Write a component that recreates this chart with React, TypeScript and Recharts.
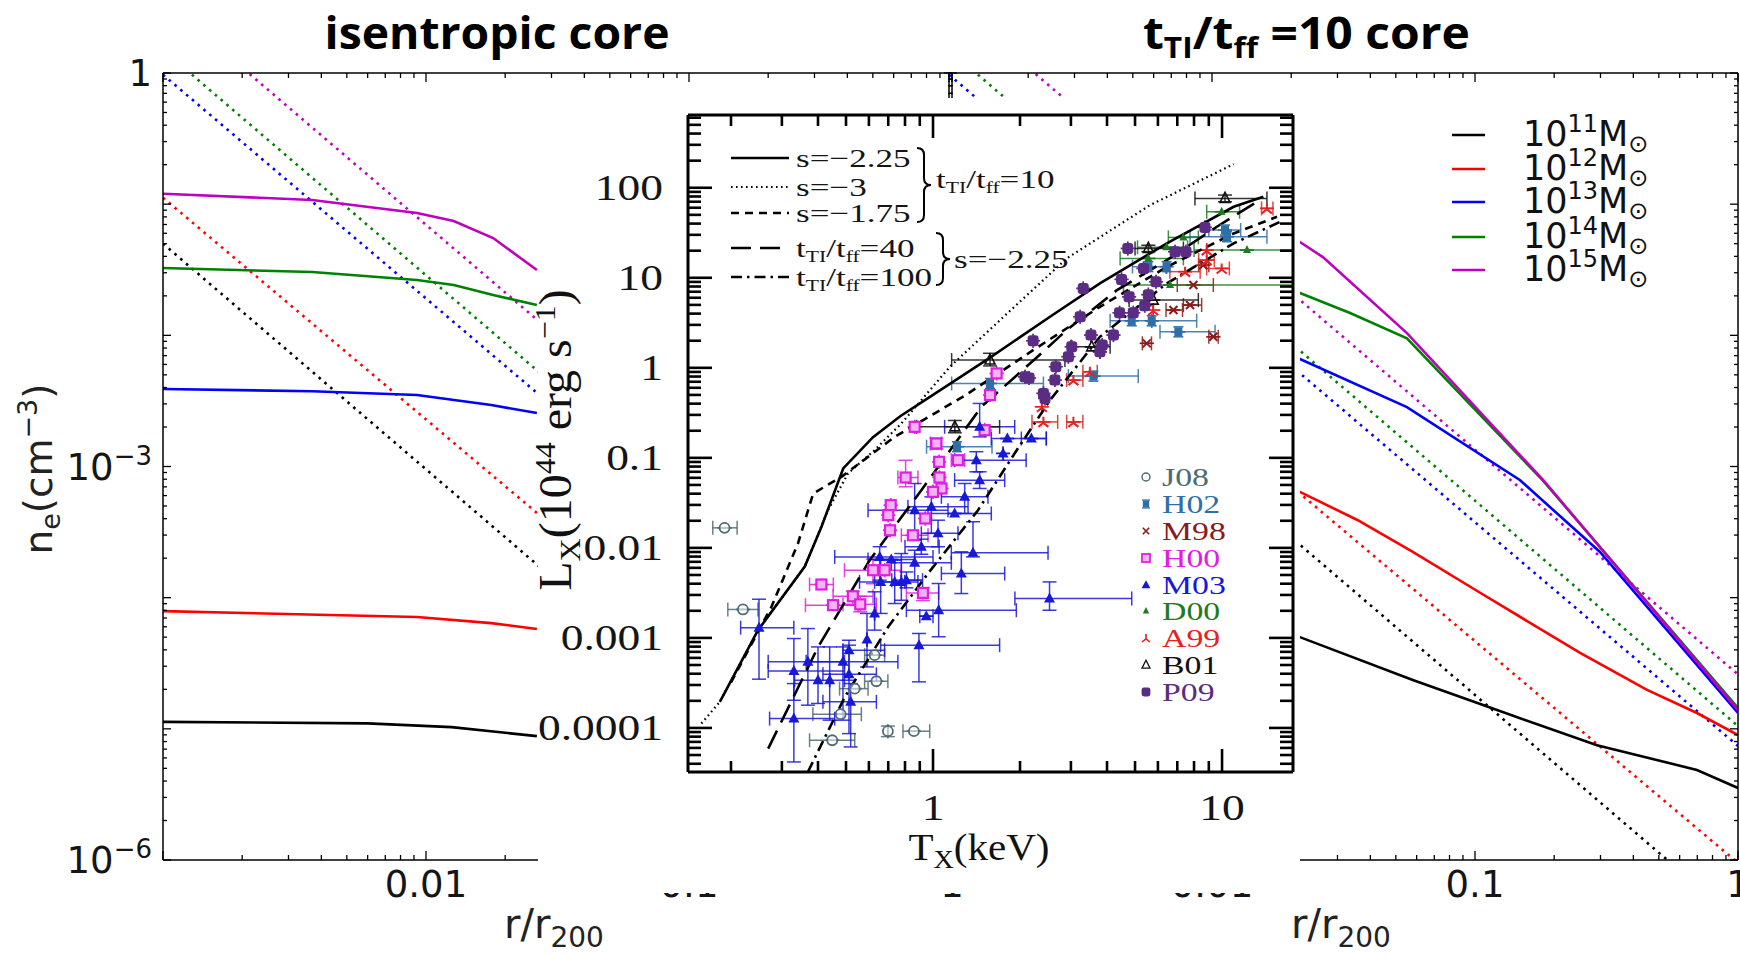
import React from 'react';
import { LineChart, Line, XAxis, YAxis, ComposedChart, Scatter, ErrorBar } from 'recharts';

type Pt = [number, number];

// ---------------- n_e(r) panels ----------------
const massExps = ['11', '12', '13', '14', '15'];
const massColors = ['#000000', '#ff0000', '#0000ff', '#008000', '#bf00bf'];

// isentropic core (solid)  [r/r200, n_e]
const isoM11: Pt[] = [[0.001, 1.13e-5], [0.006, 1.1e-5], [0.0125, 1.03e-5], [0.0264, 8.8e-6]];
const isoM12: Pt[] = [[0.001, 7.9e-5], [0.00924, 7.13e-5], [0.0177, 6.4e-5], [0.0264, 5.77e-5]];
const isoM13: Pt[] = [[0.001, 3.9e-3], [0.00369, 3.75e-3], [0.00924, 3.51e-3], [0.0177, 2.94e-3], [0.0264, 2.56e-3]];
const isoM14: Pt[] = [[0.001, 0.0326], [0.00369, 0.0304], [0.00924, 0.0264], [0.01275, 0.0242], [0.018, 0.0203], [0.0264, 0.017]];
const isoM15: Pt[] = [[0.001, 0.12], [0.00369, 0.1076], [0.00924, 0.0857], [0.01275, 0.0744], [0.018, 0.0552], [0.0264, 0.0315]];

// tTI/tff = 10 core (solid)
const tiM11: Pt[] = [[0.02, 5.1e-5], [0.0216, 5.0e-5], [0.058, 2.36e-5], [0.1213, 1.39e-5], [0.291, 7.5e-6], [0.698, 4.86e-6], [1, 3.54e-6]];
const tiM12: Pt[] = [[0.02, 6.7e-4], [0.0216, 6.4e-4], [0.0357, 3.91e-4], [0.058, 2.23e-4], [0.1046, 1.09e-4], [0.251, 3.79e-5], [0.451, 1.98e-5], [0.698, 1.32e-5], [1, 8.97e-6]];
const tiM13: Pt[] = [[0.02, 6.9e-3], [0.0216, 6.6e-3], [0.0551, 2.84e-3], [0.148, 7.9e-4], [0.2987, 2.23e-4], [1, 1.32e-5]];
const tiM14: Pt[] = [[0.02, 0.022], [0.0216, 0.021], [0.0335, 0.0148], [0.0551, 9.5e-3], [0.1814, 7.8e-4], [1, 1.44e-5]];
const tiM15: Pt[] = [[0.02, 0.058], [0.0216, 0.0515], [0.0264, 0.0395], [0.0551, 0.0104], [0.1814, 7.9e-4], [1, 1.39e-5]];

// dotted threshold lines (same in both panels)
const dotM11: Pt[] = [[0.001, 0.05], [1, 3.45e-7]];
const dotM12: Pt[] = [[0.001, 0.112], [1, 9.5e-7]];
const dotM13: Pt[] = [[0.001, 0.97], [1, 7.4e-6]];
const dotM14: Pt[] = [[0.001, 1.5], [1, 1.05e-5]];
const dotM15: Pt[] = [[0.001, 3.6], [1, 2.6e-5]];

const isoSolids = [isoM11, isoM12, isoM13, isoM14, isoM15];
const tiSolids = [tiM11, tiM12, tiM13, tiM14, tiM15];
const dottedLines = [dotM11, dotM12, dotM13, dotM14, dotM15];

// ---------------- inset: L_X(T_X) ----------------
const insetSolid: Pt[] = [[0.183, 1.95e-4], [0.248, 1.22e-3], [0.36, 6.2e-3], [0.411, 0.0171], [0.489, 0.0762], [0.62, 0.17], [0.77, 0.29], [1.0, 0.5], [1.575, 1.3], [2.54, 3.69], [3.78, 8.67], [6.44, 24.1], [10.97, 61.5], [13.9, 79.4]];
const insetDotted: Pt[] = [[0.158, 1.12e-4], [0.183, 1.95e-4], [0.248, 1.22e-3], [0.36, 6.2e-3], [0.433, 0.0262], [0.508, 0.0671], [0.628, 0.122], [0.777, 0.241], [1.145, 1.03], [1.706, 3.39], [2.9, 16.4], [5.63, 64], [10.97, 183]];
const insetDashed: Pt[] = [[0.2, 3.2e-4], [0.276, 2.21e-3], [0.341, 0.0112], [0.385, 0.0402], [0.482, 0.0615], [0.737, 0.171], [1.3, 0.5], [2.22, 1.57], [3.78, 4.76], [6.44, 13.2], [10.97, 31.1], [15.5, 47.6]];
const insetLong40: Pt[] = [[0.269, 5.9e-5], [0.4, 7.9e-4], [0.604, 7.3e-3], [0.911, 0.0437], [1.47, 0.369], [2.22, 1.2], [2.9, 2.62], [4.33, 7.3], [6.44, 15.7], [9.6, 36.9], [13.5, 73]];
const insetDashDot100: Pt[] = [[0.369, 3.24e-5], [0.495, 2.2e-4], [0.699, 1.32e-3], [0.961, 5.2e-3], [1.431, 0.0262], [1.95, 0.122], [2.54, 0.437], [3.78, 2.21], [6.44, 8.67], [10.97, 24.1], [15.9, 41.9]];

// observations: [T, L, Tlo, Thi, Llo, Lhi]
const J08 = [[0.19, 0.0167, 0.173, 0.21], [0.22, 2.07e-3, 0.195, 0.248], [0.698, 9.2e-5, 0.698, 0.698, 8e-5, 1.05e-4], [0.859, 9.2e-5, 0.787, 0.974], [0.448, 7.3e-5, 0.374, 0.536], [0.479, 1.42e-4, 0.384, 0.565], [0.536, 2.73e-4, 0.475, 0.596], [0.637, 3.3e-4, 0.58, 0.698], [0.628, 6.43e-4, 0.58, 0.68]];
const H02 = [[1.575, 0.67, 1.16, 2.41], [3.59, 0.809, 2.94, 5.13], [7.06, 2.51, 6.1, 9.46], [4.87, 3.33, 4.1, 8.17], [5.71, 3.33, 5.71, 5.71], [5.56, 13.3, 4.9, 6.4], [6.43, 13.3, 6.43, 6.43], [10.24, 33.9, 9.0, 11.6], [10.4, 28.6, 7.75, 14.3], [1.21, 0.133, 0.95, 1.6]];
const M98 = [[5.49, 1.87, 5.3, 5.7], [9.33, 2.21, 9.0, 9.7], [6.79, 4.38, 6.4, 7.3], [7.75, 4.98, 7.35, 8.5], [7.96, 8.3, 7.0, 9.33], [8.61, 13.8, 8.3, 9.0], [3.78, 1.51, 3.78, 3.78]];
const H00 = [[0.864, 0.221], [1.509, 0.203], [1.027, 0.1445, 0.98, 1.07, 0.125, 0.165], [1.05, 0.0903], [1.22, 0.0942, 1.157, 1.287], [0.804, 0.0605, 0.756, 0.887, 0.0477, 0.094], [1.053, 0.0605], [1.07, 0.0457], [1.0, 0.0419], [0.714, 0.0298], [0.7, 0.0231], [0.94, 0.0212], [0.71, 0.0157], [0.852, 0.0138, 0.777, 0.961], [0.62, 5.65e-3, 0.494, 0.777, 4.0e-3, 7.5e-3], [0.68, 5.65e-3], [0.411, 3.92e-3, 0.374, 0.452], [0.528, 2.9e-3, 0.451, 0.62, 2.3e-3, 3.3e-3], [0.451, 2.31e-3, 0.362, 0.55], [0.56, 2.36e-3, 0.488, 0.637, 1.95e-3, 2.9e-3], [0.923, 3.16e-3, 0.809, 1.046, 2.6e-3, 3.6e-3], [1.575, 0.498], [1.66, 0.866]];
const M03 = [[0.25, 1.3e-3, 0.216, 0.33, 3.48e-4, 2.69e-3], [0.33, 4.3e-4, 0.269, 0.494, 2.03e-4, 9.84e-4], [0.33, 1.27e-4, 0.272, 0.457, 4.19e-5, 3.11e-4], [0.369, 5.42e-4, 0.269, 0.494, 1.79e-4, 1.27e-3], [0.4, 3.39e-4, 0.332, 0.494, 1.87e-4, 7.94e-4], [0.439, 3.39e-4, 0.439, 0.439, 1.22e-4, 7.94e-4], [0.488, 5.42e-4, 0.364, 0.756, 1.22e-4, 7.94e-4], [0.512, 7.3e-4, 0.488, 0.68, 3.39e-4, 9.42e-4], [0.512, 3.95e-4, 0.416, 0.637, 8.65e-5, 8.3e-4], [0.519, 1.95e-4, 0.416, 0.637, 6.15e-5, 3.11e-4], [0.591, 9.59e-4, 0.591, 0.591, 4.76e-4, 1.87e-3], [0.628, 1.87e-3, 0.628, 0.628, 1.22e-3, 3.25e-3], [0.654, 7.94e-3, 0.457, 1.0, 4.38e-3, 0.0103], [0.659, 4.19e-3, 0.557, 0.798, 1.87e-3, 7.3e-3], [0.737, 4.19e-3, 0.628, 0.887, 2.41e-3, 7.3e-3], [0.777, 4.19e-3, 0.777, 0.777, 2.62e-3, 8.65e-3], [0.717, 7.43e-3, 0.596, 0.864], [0.864, 6.82e-3, 0.717, 1.157, 4.38e-3, 9.42e-3], [0.864, 0.0262, 0.596, 1.127, 0.0122, 0.0519], [0.987, 0.0286, 0.819, 1.322, 0.0145, 0.0369], [1.041, 0.0145, 0.911, 1.22, 0.0103, 0.0203], [1.188, 0.0241, 0.961, 1.591], [1.287, 0.0369, 1.069, 1.549, 0.0241, 0.0519], [1.375, 8.81e-3, 1.157, 2.5, 7.94e-3, 0.0195], [1.253, 5.19e-3, 1.069, 1.77, 3.11e-3, 9.04e-3], [0.894, 8.3e-4, 0.659, 1.7, 3.25e-4, 1.12e-3], [1.046, 2.03e-3, 0.809, 1.942, 1.03e-3, 4.02e-3], [0.948, 1.74e-3, 0.9, 1.0], [1.45, 0.0565, 1.188, 1.77, 0.0457, 0.07], [1.412, 0.0942, 1.188, 2.1, 0.07, 0.117], [1.808, 0.164, 1.591, 2.466], [2.189, 0.164, 2.021, 2.466], [1.45, 0.221, 1.097, 1.917, 0.171, 0.402], [1.747, 0.112], [2.53, 2.74e-3, 1.92, 4.87, 2.03e-3, 4.19e-3], [0.911, 0.0103, 0.8, 1.05, 8.5e-3, 0.0125], [0.809, 4.38e-3, 0.72, 0.92, 3.6e-3, 5.4e-3]];
const D00 = [[9.97, 54.2, 8.85, 11.5], [7.35, 28.1, 6.52, 8.28], [5.56, 16.4, 4.44, 7.35], [6.43, 21.8, 5.1, 7.6], [12.2, 20.3, 8.0, 17.6], [6.61, 8.3, 4.56, 17.6]];
const A99 = [[3.06, 0.73, 2.9, 3.3], [3.49, 0.904, 3.3, 3.7], [2.41, 0.251, 2.2, 2.7], [3.06, 0.251, 2.9, 3.3], [2.38, 0.369], [7.45, 11.7, 6.6, 8.4], [9.97, 12.7, 8.85, 10.6], [8.85, 20.3], [14.3, 59, 13.7, 15.0], [5.78, 4.38], [8.85, 15.7, 8.3, 9.4], [3.78, 1.71]];
const B01 = [[10.24, 76.2, 8.06, 14.3, 70, 83], [5.56, 21.2, 5.0, 7.35, 19.5, 23], [5.78, 5.65, 4.77, 8.28], [1.575, 1.22, 1.16, 2.86, 1.05, 1.45], [1.19, 0.221, 0.878, 1.7, 0.19, 0.26], [3.54, 1.71, 3.0, 4.1]];
const P09 = [[8.73, 36.3], [4.72, 21.2], [6.88, 19.5], [7.5, 19.5], [5.35, 12.7], [5.91, 9.04], [4.49, 9.6], [3.31, 7.62], [4.77, 6.15], [5.56, 6.5], [4.42, 4.09], [4.93, 4.09], [5.4, 4.9], [3.23, 3.69], [3.52, 2.31], [4.21, 2.31], [3.85, 1.79], [3.02, 1.71], [2.22, 2.0], [2.66, 1.03], [2.64, 0.73], [2.08, 0.794], [2.15, 0.77], [2.44, 0.457], [2.41, 0.52], [2.94, 1.33], [3.78, 1.51]];

const obsSeries = [
  { name: 'J08', color: '#4d6b73', kind: 'circle', rows: J08 },
  { name: 'H02', color: '#2f6ea6', kind: 'boxx', rows: H02 },
  { name: 'M98', color: '#8b1a1a', kind: 'cross', rows: M98 },
  { name: 'H00', color: '#e01ee0', kind: 'square', rows: H00 },
  { name: 'M03', color: '#1818d8', kind: 'tri', rows: M03 },
  { name: 'D00', color: '#1e7b1e', kind: 'trismall', rows: D00 },
  { name: 'A99', color: '#e42222', kind: 'tripod', rows: A99 },
  { name: 'B01', color: '#111111', kind: 'opentri', rows: B01 },
  { name: 'P09', color: '#5b2c83', kind: 'hex', rows: P09 },
];

// tick values
const bgXMajors = [0.001, 0.01, 0.1, 1];
const bgYMajors = [1e-6, 1e-5, 1e-4, 1e-3, 1e-2, 1e-1, 1];
const insetXMajors = [1, 10];
const insetYMajors = [1e-4, 1e-3, 0.01, 0.1, 1, 10, 100];
const insetYLabelText = ['0.0001', '0.001', '0.01', '0.1', '1', '10', '100'];

const SANS = '"DejaVu Sans", "Liberation Sans", sans-serif';
const SERIF = '"Liberation Serif", "DejaVu Serif", serif';

function logTicks(lo: number, hi: number): number[] {
  const out: number[] = [];
  for (let e = Math.floor(Math.log10(lo)); e <= Math.ceil(Math.log10(hi)); e++) {
    for (let k = 1; k <= 9; k++) {
      const v = parseFloat((k * Math.pow(10, e)).toPrecision(6));
      if (v >= lo * 0.9999 && v <= hi * 1.0001) out.push(v);
    }
  }
  return out;
}

const bgXTicks = logTicks(0.001, 1);
const bgYTicks = logTicks(1e-6, 1);
const INX: [number, number] = [0.142, 17.6];
const INY: [number, number] = [3.24e-5, 643];
const insetXTicks = logTicks(INX[0], INX[1]);
const insetYTicks = logTicks(INY[0], INY[1]);

const same = (a: number, b: number) => Math.abs(Math.log10(a) - Math.log10(b)) < 1e-4;

type TickCfg = {
  side: 'left' | 'right' | 'top' | 'bottom';
  majors: number[];
  majorLen: number;
  minorLen: number;
  sw: number;
  label?: (v: number) => React.ReactNode | null;
  dx?: number;
  dy?: number;
  fontSize?: number;
  fontFamily?: string;
  sx?: number;
};

function makeTick(c: TickCfg) {
  return (props: any) => {
    const { x, y, payload } = props;
    const v = Number(payload && payload.value);
    const major = c.majors.some((m) => same(m, v));
    const len = major ? c.majorLen : c.minorLen;
    let x2 = x;
    let y2 = y;
    if (c.side === 'left') x2 = x + len;
    if (c.side === 'right') x2 = x - len;
    if (c.side === 'top') y2 = y + len;
    if (c.side === 'bottom') y2 = y - len;
    const content = c.label ? c.label(v) : null;
    let text: React.ReactNode = null;
    if (content !== null && content !== undefined) {
      const tx = c.side === 'left' ? x - (c.dx || 0) : x;
      const ty = y + (c.dy || 0);
      text = (
        <text
          transform={`translate(${tx},${ty}) scale(${c.sx || 1},1)`}
          x={0}
          y={0}
          textAnchor={c.side === 'left' ? 'end' : 'middle'}
          fontSize={c.fontSize}
          fontFamily={c.fontFamily}
          fill="#151515"
        >
          {content}
        </text>
      );
    }
    return (
      <g>
        <line x1={x} y1={y} x2={x2} y2={y2} stroke="#000" strokeWidth={c.sw} />
        {text}
      </g>
    );
  };
}

const toRN = (pts: Pt[]) => pts.map(([r, ne]) => ({ r, ne }));
const toTL = (pts: Pt[]) => pts.map(([T, L]) => ({ T, L }));
const toObs = (rows: number[][]) =>
  rows.map((row) => {
    const T = row[0];
    const L = row[1];
    const tlo = row.length > 2 ? row[2] : T;
    const thi = row.length > 3 ? row[3] : T;
    const llo = row.length > 4 ? row[4] : L;
    const lhi = row.length > 5 ? row[5] : L;
    return { T, L, ex: [T - tlo, thi - T], ey: [L - llo, lhi - L] };
  });

function Marker({ kind, cx, cy, color }: { kind: string; cx: number; cy: number; color: string }) {
  switch (kind) {
    case 'circle':
      return <circle cx={cx} cy={cy} r={5} fill="#fff" fillOpacity={0.6} stroke={color} strokeWidth={1.8} />;
    case 'boxx':
      return (
        <g>
          <rect x={cx - 4} y={cy - 4.5} width={8} height={9} fill={color} />
          <line x1={cx - 5} y1={cy - 5} x2={cx + 5} y2={cy - 5} stroke={color} strokeWidth={1.5} />
          <line x1={cx - 5} y1={cy + 5} x2={cx + 5} y2={cy + 5} stroke={color} strokeWidth={1.5} />
        </g>
      );
    case 'cross':
      return <path d={`M${cx - 4},${cy - 4}L${cx + 4},${cy + 4}M${cx - 4},${cy + 4}L${cx + 4},${cy - 4}`} stroke={color} strokeWidth={2} />;
    case 'square':
      return <rect x={cx - 5} y={cy - 5} width={10} height={10} fill="#f4b4f4" stroke={color} strokeWidth={2.2} />;
    case 'tri':
      return <path d={`M${cx},${cy - 6}L${cx + 5.5},${cy + 4}L${cx - 5.5},${cy + 4}Z`} fill={color} />;
    case 'trismall':
      return <path d={`M${cx},${cy - 5}L${cx + 4},${cy + 3}L${cx - 4},${cy + 3}Z`} fill={color} />;
    case 'tripod':
      return <path d={`M${cx},${cy - 5}L${cx},${cy + 1}L${cx - 5},${cy + 5}M${cx},${cy + 1}L${cx + 5},${cy + 5}`} stroke={color} strokeWidth={2} fill="none" />;
    case 'opentri':
      return <path d={`M${cx},${cy - 6}L${cx + 5},${cy + 4}L${cx - 5},${cy + 4}Z`} fill="none" stroke={color} strokeWidth={1.6} />;
    default:
      return <rect x={cx - 5.5} y={cy - 5.5} width={11} height={11} rx={3} fill={color} />;
  }
}

const bgXLabel = (v: number) => (same(v, 0.01) ? '0.01' : same(v, 0.1) ? '0.1' : same(v, 1) ? '1' : null);
const bgYLabel = (v: number) => {
  if (same(v, 1)) return '1';
  if (same(v, 1e-3))
    return (
      <>
        <tspan>10</tspan>
        <tspan dy={-15} fontSize={26}>−3</tspan>
      </>
    );
  if (same(v, 1e-6))
    return (
      <>
        <tspan>10</tspan>
        <tspan dy={-15} fontSize={26}>−6</tspan>
      </>
    );
  return null;
};

function NePanel({ solids, width, left, axisW, right, yLabels }: { solids: Pt[][]; width: number; left: number; axisW: number; right: number; yLabels: boolean }) {
  const axisLine = { stroke: '#000', strokeWidth: 1.5 };
  const common = { type: 'number' as const, scale: 'log' as const, allowDataOverflow: true, interval: 0 as const, tickSize: 0, tickMargin: 0, tickLine: false, axisLine };
  return (
    <LineChart width={width} height={958} margin={{ top: 72, right, bottom: 38, left }}>
      <XAxis xAxisId="b" dataKey="r" {...common} domain={[0.001, 1]} ticks={bgXTicks} height={60}
        tick={makeTick({ side: 'bottom', majors: bgXMajors, majorLen: 9, minorLen: 5, sw: 1.3, label: bgXLabel, dy: 37, fontSize: 37, fontFamily: SANS })} />
      <XAxis xAxisId="t" orientation="top" dataKey="r" {...common} domain={[0.001, 1]} ticks={bgXTicks} height={1}
        tick={makeTick({ side: 'top', majors: bgXMajors, majorLen: 9, minorLen: 5, sw: 1.3 })} />
      <YAxis yAxisId="l" dataKey="ne" {...common} domain={[1e-6, 1]} ticks={bgYTicks} width={axisW}
        tick={makeTick({ side: 'left', majors: bgYMajors, majorLen: 8, minorLen: 4, sw: 1.3, label: yLabels ? bgYLabel : undefined, dx: 11, dy: 13, fontSize: 37, fontFamily: SANS })} />
      <YAxis yAxisId="r" orientation="right" dataKey="ne" {...common} domain={[1e-6, 1]} ticks={bgYTicks} width={1}
        tick={makeTick({ side: 'right', majors: bgYMajors, majorLen: 8, minorLen: 4, sw: 1.3 })} />
      {dottedLines.map((pts, i) => (
        <Line key={'d' + i} xAxisId="b" yAxisId="l" data={toRN(pts)} dataKey="ne" stroke={massColors[i]} strokeWidth={2.6}
          strokeDasharray="2.6 5" dot={false} isAnimationActive={false} type="linear" />
      ))}
      {solids.map((pts, i) => (
        <Line key={'s' + i} xAxisId="b" yAxisId="l" data={toRN(pts)} dataKey="ne" stroke={massColors[i]} strokeWidth={2.6}
          dot={false} isAnimationActive={false} type="linear" />
      ))}
    </LineChart>
  );
}

const insetXLabel = (v: number) => (same(v, 1) ? '1' : same(v, 10) ? '10' : null);
const insetYLabel = (v: number) => {
  const i = insetYMajors.findIndex((m) => same(m, v));
  return i >= 0 ? insetYLabelText[i] : null;
};

function Inset() {
  const axisLine = { stroke: '#000', strokeWidth: 3 };
  const common = { type: 'number' as const, scale: 'log' as const, allowDataOverflow: true, interval: 0 as const, tickSize: 0, tickMargin: 0, tickLine: false, axisLine };
  return (
    <ComposedChart width={762} height={795} margin={{ top: 16, right: 6, bottom: 21, left: 20 }}>
      <XAxis xAxisId="b" dataKey="T" {...common} domain={INX} ticks={insetXTicks} height={100}
        tick={makeTick({ side: 'bottom', majors: insetXMajors, majorLen: 23, minorLen: 11, sw: 2.6, label: insetXLabel, dy: 48, fontSize: 35, fontFamily: SERIF, sx: 1.3 })} />
      <XAxis xAxisId="t" orientation="top" dataKey="T" {...common} domain={INX} ticks={insetXTicks} height={1}
        tick={makeTick({ side: 'top', majors: insetXMajors, majorLen: 23, minorLen: 11, sw: 2.6 })} />
      <YAxis yAxisId="l" dataKey="L" {...common} domain={INY} ticks={insetYTicks} width={130}
        tick={makeTick({ side: 'left', majors: insetYMajors, majorLen: 24, minorLen: 13, sw: 2.6, label: insetYLabel, dx: 25, dy: 12, fontSize: 35, fontFamily: SERIF, sx: 1.3 })} />
      <YAxis yAxisId="r" orientation="right" dataKey="L" {...common} domain={INY} ticks={insetYTicks} width={1}
        tick={makeTick({ side: 'right', majors: insetYMajors, majorLen: 24, minorLen: 13, sw: 2.6 })} />
      {obsSeries.map((s) => (
        <Scatter key={s.name} name={s.name} xAxisId="b" yAxisId="l" data={toObs(s.rows)} dataKey="L" isAnimationActive={false}
          shape={(p: any) => <Marker kind={s.kind} cx={p.cx} cy={p.cy} color={s.color} />}>
          <ErrorBar dataKey="ex" direction="x" width={7} stroke={s.color} strokeWidth={1.5} strokeOpacity={0.85} />
          <ErrorBar dataKey="ey" direction="y" width={7} stroke={s.color} strokeWidth={1.5} strokeOpacity={0.85} />
        </Scatter>
      ))}
      <Line xAxisId="b" yAxisId="l" data={toTL(insetDotted)} dataKey="L" stroke="#000" strokeWidth={2.2} strokeDasharray="1.6 3.4" dot={false} isAnimationActive={false} type="linear" />
      <Line xAxisId="b" yAxisId="l" data={toTL(insetDashDot100)} dataKey="L" stroke="#000" strokeWidth={2.6} strokeDasharray="11 5 2.5 5" dot={false} isAnimationActive={false} type="linear" />
      <Line xAxisId="b" yAxisId="l" data={toTL(insetLong40)} dataKey="L" stroke="#000" strokeWidth={2.6} strokeDasharray="20 9" dot={false} isAnimationActive={false} type="linear" />
      <Line xAxisId="b" yAxisId="l" data={toTL(insetDashed)} dataKey="L" stroke="#000" strokeWidth={2.6} strokeDasharray="8 6" dot={false} isAnimationActive={false} type="linear" />
      <Line xAxisId="b" yAxisId="l" data={toTL(insetSolid)} dataKey="L" stroke="#000" strokeWidth={2.6} dot={false} isAnimationActive={false} type="linear" />
    </ComposedChart>
  );
}

function brace(x: number, y0: number, y1: number, w: number) {
  const mid = (y0 + y1) / 2;
  const q = 7;
  const xm = x + w / 2;
  return `M${x},${y0} Q${xm},${y0} ${xm},${y0 + q} L${xm},${mid - q} Q${xm},${mid} ${x + w},${mid} Q${xm},${mid} ${xm},${mid + q} L${xm},${y1 - q} Q${xm},${y1} ${x},${y1}`;
}

const insetLegendRows = [
  { y: 158, dash: undefined as string | undefined, w: 2.6 },
  { y: 187, dash: '1.6 3.4', w: 2.2 },
  { y: 213, dash: '8 6', w: 2.6 },
  { y: 248, dash: '20 9', w: 2.6 },
  { y: 277, dash: '11 5 2.5 5', w: 2.6 },
];

function SerifText({ x, y, size, children, fill = '#151515', sx = 1.35 }: { x: number; y: number; size: number; children: React.ReactNode; fill?: string; sx?: number }) {
  return (
    <text transform={`translate(${x},${y}) scale(${sx},1)`} x={0} y={0} fontFamily={SERIF} fontSize={size} fill={fill}>
      {children}
    </text>
  );
}

function TiTf({ val }: { val: string }) {
  return (
    <>
      t<tspan dy={5} fontSize={16}>TI</tspan>
      <tspan dy={-5}>/t</tspan>
      <tspan dy={5} fontSize={16}>ff</tspan>
      <tspan dy={-5}>={val}</tspan>
    </>
  );
}

function Overlay() {
  const legendRowsY = [135, 169, 202, 237, 270];
  const obsRowY = [477, 504, 531, 558, 585, 611, 638, 665, 692];
  return (
    <svg width={1740} height={958} style={{ position: 'absolute', left: 0, top: 0, pointerEvents: 'none' }}>
      {/* panel titles */}
      <text x={497} y={49} textAnchor="middle" fontFamily='"Open Sans", Lato, sans-serif' fontWeight={700} fontSize={44} textLength={345} lengthAdjust="spacingAndGlyphs" fill="#000">
        isentropic core
      </text>
      <text x={1143} y={49} fontFamily='"Open Sans", Lato, sans-serif' fontWeight={700} fontSize={44} textLength={327} lengthAdjust="spacingAndGlyphs" fill="#000">
        t<tspan dy={9} fontSize={29}>TI</tspan>
        <tspan dy={-9}>/t</tspan>
        <tspan dy={9} fontSize={29}>ff</tspan>
        <tspan dy={-9}> =10 core</tspan>
      </text>

      {/* background axis labels */}
      <text transform="translate(52,469) rotate(-90)" textAnchor="middle" fontFamily={SANS} fontSize={39} fill="#222">
        n<tspan dy={8} fontSize={27}>e</tspan>
        <tspan dy={-8}>(cm</tspan>
        <tspan dy={-15} fontSize={27}>−3</tspan>
        <tspan dy={15}>)</tspan>
      </text>
      <text x={554} y={938} textAnchor="middle" fontFamily={SANS} fontSize={40} fill="#222">
        r/r<tspan dy={9} fontSize={28}>200</tspan>
      </text>
      <text x={1341} y={938} textAnchor="middle" fontFamily={SANS} fontSize={40} fill="#222">
        r/r<tspan dy={9} fontSize={28}>200</tspan>
      </text>

      {/* mass legend */}
      {massExps.map((e, i) => (
        <g key={e}>
          <line x1={1452} x2={1485} y1={legendRowsY[i]} y2={legendRowsY[i]} stroke={massColors[i]} strokeWidth={2.6} />
          <text x={1523} y={legendRowsY[i] + 11} fontFamily={SANS} fontSize={35} fill="#111">
            10<tspan dy={-14} fontSize={24}>{e}</tspan>
            <tspan dy={14}>M</tspan>
            <tspan dy={6} fontSize={24}>⊙</tspan>
          </text>
        </g>
      ))}

      {/* inset axis labels */}
      <text transform="translate(571,440) scale(0.95,1) rotate(-90)" textAnchor="middle" fontFamily={SERIF} fontSize={48} fill="#111">
        L<tspan dy={9} fontSize={32}>X</tspan>
        <tspan dy={-9}>(10</tspan>
        <tspan dy={-17} fontSize={32}>44</tspan>
        <tspan dy={17}> erg s</tspan>
        <tspan dy={-17} fontSize={32}>−1</tspan>
        <tspan dy={17}>)</tspan>
      </text>
      <text transform="translate(979,860) scale(1.08,1)" textAnchor="middle" fontFamily={SERIF} fontSize={38} fill="#111">
        T<tspan dy={8} fontSize={26}>X</tspan>
        <tspan dy={-8}>(keV)</tspan>
      </text>

      {/* inset model legend */}
      {insetLegendRows.map((r, i) => (
        <line key={i} x1={731} x2={789} y1={r.y} y2={r.y} stroke="#000" strokeWidth={r.w} strokeDasharray={r.dash} />
      ))}
      <SerifText x={796} y={167} size={26}>s=−2.25</SerifText>
      <SerifText x={796} y={196} size={26}>s=−3</SerifText>
      <SerifText x={796} y={222} size={26}>s=−1.75</SerifText>
      <SerifText x={796} y={257} size={26}><TiTf val="40" /></SerifText>
      <SerifText x={796} y={286} size={26}><TiTf val="100" /></SerifText>
      <path d={brace(917, 148, 222, 14)} stroke="#000" strokeWidth={2} fill="none" />
      <path d={brace(936, 233, 285, 14)} stroke="#000" strokeWidth={2} fill="none" />
      <SerifText x={936} y={188} size={26}><TiTf val="10" /></SerifText>
      <SerifText x={954} y={268} size={26}>s=−2.25</SerifText>

      {/* inset observation legend */}
      {obsSeries.map((s, i) => (
        <g key={s.name}>
          <g transform={`translate(1146,${obsRowY[i]}) scale(0.8)`}>
            <Marker kind={s.kind} cx={0} cy={0} color={s.color} />
          </g>
          <SerifText x={1162} y={obsRowY[i] + 9} size={26} fill={s.color} sx={1.3}>{s.name}</SerifText>
        </g>
      ))}
    </svg>
  );
}

export default function App() {
  return (
    <div style={{ position: 'absolute', left: 0, top: 0, width: 1740, height: 958, background: '#fff', overflow: 'hidden' }}>
      <div style={{ position: 'absolute', left: 0, top: 0 }}>
        <NePanel solids={isoSolids} width={1000} left={63} axisW={100} right={47} yLabels={true} />
      </div>
      <div style={{ position: 'absolute', left: 880, top: 0 }}>
        <NePanel solids={tiSolids} width={860} left={19} axisW={50} right={1} yLabels={false} />
      </div>
      <div style={{ position: 'absolute', left: 538, top: 98, width: 762, height: 795, background: '#fff' }}>
        <Inset />
      </div>
      <Overlay />
    </div>
  );
}
